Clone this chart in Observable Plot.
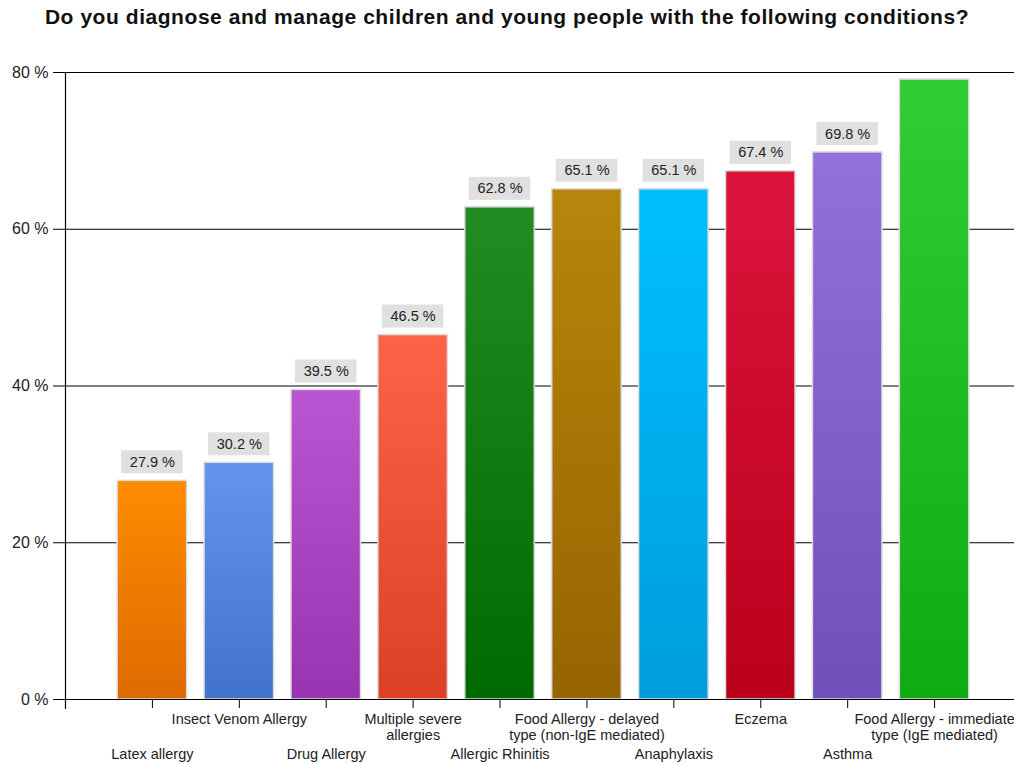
<!DOCTYPE html>
<html>
<head>
<meta charset="utf-8">
<script src="https://cdn.jsdelivr.net/npm/d3@7"></script>
<script src="https://cdn.jsdelivr.net/npm/@observablehq/plot@0.6"></script>
<style>
  html, body { margin: 0; padding: 0; background: #fff; }
  #title { width: 1014px; height: 40px; box-sizing: border-box; padding-top: 5px; line-height: 26px;
           text-align: center; font: bold 21px "Liberation Sans", Arial, sans-serif; letter-spacing: 0.55px; color: #111; }
  #chart svg { display: block; }
</style>
</head>
<body>
<div id="title">Do you diagnose and manage children and young people with the following conditions?</div>
<div id="chart"></div>
<script>
const categories = [
  "Latex allergy",
  "Insect Venom Allergy",
  "Drug Allergy",
  "Multiple severe\nallergies",
  "Allergic Rhinitis",
  "Food Allergy - delayed\ntype (non-IgE mediated)",
  "Anaphylaxis",
  "Eczema",
  "Asthma",
  "Food Allergy - immediate\ntype (IgE mediated)"
];
const values = [27.9, 30.2, 39.5, 46.5, 62.8, 65.1, 65.1, 67.4, 69.8, 79.1];
const topColors = ["#FF8C00", "#6495ED", "#BA55D3", "#FF6347", "#228B22", "#B8860B", "#00BFFF", "#DC143C", "#9370DB", "#32CD32"];
const bottomColors = ["#DD6A00", "#4273CB", "#9833B1", "#DD4125", "#006900", "#966400", "#009DDD", "#BA001A", "#714EB9", "#10AB10"];
const yTicks = [0, 20, 40, 60, 80];

const data = categories.map((c, i) => ({
  category: c, value: values[i], row: i % 2, grad: `url(#grad${i})`
}));

const font = "'Liberation Sans', Arial, sans-serif";

const barMarks = data.map(d => Plot.barY([d], {
  x: "category", y: "value", fill: d.grad, stroke: "#dcdcdc", strokeWidth: 1.5
}));

const chart = Plot.plot({
  width: 1014,
  height: 724,
  marginLeft: 65,
  marginRight: 0,
  marginTop: 32,
  marginBottom: 65,
  style: { fontFamily: font, background: "#fff", color: "#222" },
  x: { domain: categories, range: [65, 1021], paddingInner: 0.2, paddingOuter: 0.6, round: false, axis: null },
  y: { domain: [0, 80], axis: null },
  marks: [
    Plot.gridY(yTicks.filter(t => t > 0), { stroke: "#000", strokeOpacity: 1, strokeWidth: 1 }),
    ...barMarks,
    Plot.ruleY([0], { stroke: "#000", strokeWidth: 1.2 }),
    Plot.frame({ anchor: "left", stroke: "#000", strokeWidth: 1.2, insetBottom: -9 }),
    Plot.axisY(yTicks, {
      tickSize: 12, tickPadding: 5, fontSize: 16, stroke: "#000",
      tickFormat: d => d + " %", label: null, fill: "#222"
    }),
    Plot.axisX({ tickSize: 9, tickFormat: () => "", label: null, stroke: "#000" }),
    Plot.barY(data.filter(d => d.value < 78), {
      x: "category", y1: "value", y2: "value",
      insetTop: -30, insetBottom: 7, insetLeft: 4, insetRight: 4, fill: "#e0e0e0"
    }),
    Plot.text(data.filter(d => d.value < 78), {
      x: "category", y: "value", text: d => d.value.toFixed(1) + " %",
      dy: -18.5, fontSize: 14.5, fill: "#222", lineAnchor: "middle"
    }),
    Plot.text(data.filter(d => d.row === 1), {
      x: "category", text: "category", frameAnchor: "bottom", lineAnchor: "top",
      dy: 13.5, fontSize: 14.5, lineHeight: 1.1, fill: "#222"
    }),
    Plot.text(data.filter(d => d.row === 0), {
      x: "category", text: "category", frameAnchor: "bottom", lineAnchor: "top",
      dy: 48.5, fontSize: 14.5, lineHeight: 1.1, fill: "#222"
    })
  ]
});

const defs = d3.select(chart).insert("defs", ":first-child");
data.forEach((d, i) => {
  const g = defs.append("linearGradient").attr("id", `grad${i}`)
    .attr("x1", 0).attr("y1", 0).attr("x2", 0).attr("y2", 1);
  g.append("stop").attr("offset", "0%").attr("stop-color", topColors[i]);
  g.append("stop").attr("offset", "100%").attr("stop-color", bottomColors[i]);
});

document.getElementById("chart").appendChild(chart);
</script>
</body>
</html>
